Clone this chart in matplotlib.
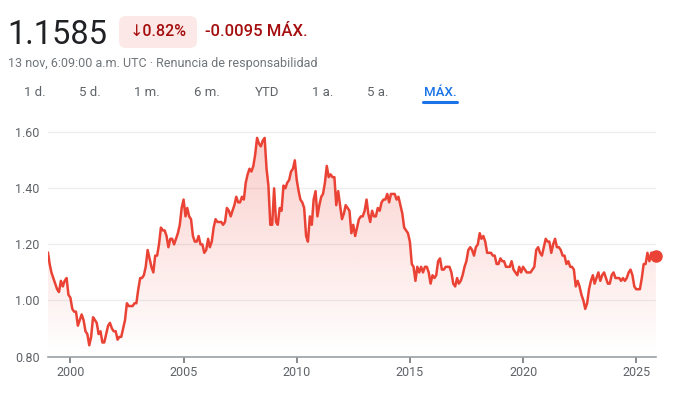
import numpy as np
import pandas as pd
import matplotlib
matplotlib.use("Agg")
import matplotlib.pyplot as plt
import matplotlib.dates as mdates
from matplotlib.patches import FancyBboxPatch, Polygon
from matplotlib.transforms import IdentityTransform

plt.rcParams['font.family'] = ['Roboto', 'DejaVu Sans']

# EUR/USD, month-end values
start_date = "1999-01-04"
start_rate = 1.17
rate = [
    # 1999
    1.13, 1.10, 1.08, 1.06, 1.04, 1.03, 1.07, 1.05, 1.07, 1.08, 1.02, 1.01,
    # 2000
    0.97, 0.96, 0.96, 0.91, 0.93, 0.95, 0.93, 0.89, 0.88, 0.84, 0.87, 0.94,
    # 2001
    0.93, 0.92, 0.88, 0.89, 0.85, 0.85, 0.88, 0.91, 0.92, 0.90, 0.89, 0.89,
    # 2002
    0.86, 0.87, 0.87, 0.90, 0.93, 0.99, 0.98, 0.98, 0.98, 0.99, 0.99, 1.04,
    # 2003
    1.08, 1.08, 1.09, 1.12, 1.18, 1.15, 1.12, 1.10, 1.16, 1.16, 1.20, 1.26,
    # 2004
    1.25, 1.25, 1.23, 1.19, 1.22, 1.22, 1.20, 1.22, 1.24, 1.27, 1.33, 1.36,
    # 2005
    1.30, 1.33, 1.30, 1.29, 1.23, 1.21, 1.21, 1.23, 1.20, 1.20, 1.17, 1.18,
    # 2006
    1.22, 1.19, 1.21, 1.26, 1.29, 1.28, 1.28, 1.28, 1.27, 1.28, 1.33, 1.32,
    # 2007
    1.30, 1.32, 1.34, 1.37, 1.35, 1.35, 1.37, 1.36, 1.42, 1.45, 1.47, 1.46,
    # 2008
    1.48, 1.52, 1.58, 1.56, 1.55, 1.57, 1.58, 1.47, 1.41, 1.27, 1.27, 1.40,
    # 2009
    1.28, 1.27, 1.33, 1.32, 1.41, 1.40, 1.42, 1.43, 1.46, 1.47, 1.50, 1.43,
    # 2010
    1.39, 1.36, 1.35, 1.33, 1.23, 1.21, 1.30, 1.27, 1.36, 1.39, 1.30, 1.34,
    # 2011
    1.37, 1.38, 1.42, 1.48, 1.44, 1.45, 1.44, 1.44, 1.34, 1.39, 1.34, 1.29,
    # 2012
    1.31, 1.34, 1.33, 1.32, 1.24, 1.27, 1.23, 1.26, 1.29, 1.30, 1.30, 1.32,
    # 2013
    1.36, 1.31, 1.28, 1.32, 1.30, 1.30, 1.33, 1.32, 1.35, 1.36, 1.36, 1.38,
    # 2014
    1.35, 1.38, 1.38, 1.38, 1.36, 1.37, 1.34, 1.31, 1.26, 1.25, 1.24, 1.21,
    # 2015
    1.13, 1.12, 1.07, 1.12, 1.10, 1.12, 1.10, 1.12, 1.12, 1.10, 1.06, 1.09,
    # 2016
    1.08, 1.09, 1.14, 1.15, 1.11, 1.11, 1.12, 1.12, 1.12, 1.10, 1.06, 1.05,
    # 2017
    1.08, 1.06, 1.07, 1.09, 1.12, 1.14, 1.18, 1.19, 1.18, 1.16, 1.19, 1.20,
    # 2018
    1.24, 1.22, 1.23, 1.21, 1.17, 1.17, 1.17, 1.16, 1.16, 1.13, 1.13, 1.15,
    # 2019
    1.14, 1.14, 1.12, 1.12, 1.12, 1.14, 1.11, 1.10, 1.09, 1.12, 1.10, 1.12,
    # 2020
    1.11, 1.10, 1.10, 1.10, 1.11, 1.12, 1.18, 1.19, 1.17, 1.16, 1.19, 1.22,
    # 2021
    1.21, 1.21, 1.17, 1.20, 1.22, 1.19, 1.19, 1.18, 1.16, 1.16, 1.13, 1.14,
    # 2022
    1.12, 1.12, 1.11, 1.05, 1.07, 1.05, 1.02, 1.00, 0.97, 0.99, 1.04, 1.07,
    # 2023
    1.09, 1.06, 1.08, 1.10, 1.07, 1.09, 1.10, 1.08, 1.06, 1.06, 1.09, 1.10,
    # 2024
    1.08, 1.08, 1.08, 1.07, 1.08, 1.07, 1.08, 1.10, 1.11, 1.09, 1.05, 1.04,
    # 2025
    1.04, 1.04, 1.08, 1.13, 1.13, 1.17, 1.14, 1.17, 1.17, 1.15,
]
last_date = "2025-11-13"
last_rate = 1.1585

y_ticks = [0.80, 1.00, 1.20, 1.40, 1.60]
x_years = [2000, 2005, 2010, 2015, 2020, 2025]
tabs = ["1 d.", "5 d.", "1 m.", "6 m.", "YTD", "1 a.", "5 a.", "MÁX."]
tab_x = [35, 90, 147, 207, 267, 323, 378, 440]

dates = pd.DatetimeIndex([pd.Timestamp(start_date)]).append(
    pd.date_range("1999-01-31", periods=len(rate), freq="ME")).append(
    pd.DatetimeIndex([pd.Timestamp(last_date)]))
values = np.array([start_rate] + rate + [last_rate])
xnum = mdates.date2num(dates)

red = "#ea4335"
W, H = 688, 395

fig = plt.figure(figsize=(W / 100, H / 100), dpi=100)
ax = fig.add_axes([48 / W, 1 - 356.5 / H, (656 - 48) / W, (356.5 - 126.7) / H])

ymin, ymax = 0.80, 1.62
x0, x1 = mdates.date2num(pd.Timestamp("1999-01-04")), mdates.date2num(pd.Timestamp("2025-11-15"))

# gradient fill under the line
grad = np.zeros((256, 1, 4))
rgb = matplotlib.colors.to_rgb(red)
grad[:, 0, 0], grad[:, 0, 1], grad[:, 0, 2] = rgb
grad[:, 0, 3] = np.linspace(0.27, 0.0, 256)
img = ax.imshow(grad, extent=[x0, x1, ymin, ymax], aspect="auto", origin="upper", zorder=1)
poly = Polygon(np.column_stack([np.r_[xnum[0], xnum, xnum[-1]], np.r_[ymin, values, ymin]]),
               closed=True, facecolor="none", edgecolor="none")
ax.add_patch(poly)
img.set_clip_path(poly)

ax.plot(xnum, values, color=red, lw=1.8, zorder=3, solid_joinstyle="round")
ax.plot(xnum[-1], values[-1], "o", color=red, ms=8, zorder=4, clip_on=False)

ax.set_xlim(x0, x1)
ax.set_ylim(ymin, ymax)
ax.set_yticks(y_ticks)
ax.set_yticklabels([f"{v:.2f}" for v in y_ticks])
ax.set_xticks([mdates.date2num(pd.Timestamp(f"{y}-01-01")) for y in x_years])
ax.set_xticklabels([str(y) for y in x_years])
ax.grid(axis="y", color="#eeeeee", lw=1)
ax.set_axisbelow(True)
for s in ["top", "right", "left"]:
    ax.spines[s].set_visible(False)
ax.spines["bottom"].set_color("#9aa0a6")
ax.spines["bottom"].set_linewidth(1.2)
ax.tick_params(axis="y", length=0, pad=6, labelsize=9, labelcolor="#5f6368")
ax.tick_params(axis="x", length=4, width=1.2, color="#70757a", pad=3, labelsize=9, labelcolor="#5f6368")


def px(x, y):
    return x / W, 1 - y / H


# header
fig.text(*px(7, 35), "1.1585", fontsize=23.5, color="#202124", va="center", ha="left")
badge = FancyBboxPatch((119, H - 48), 78, 32, boxstyle="round,pad=0,rounding_size=7",
                       facecolor="#fce8e6", edgecolor="none", transform=IdentityTransform())
fig.patches.append(badge)
fig.text(*px(158, 32), "↓0.82%", fontsize=11.5, color="#a50e0e", va="center", ha="center",
         fontweight="medium")
fig.text(*px(205, 32), "-0.0095 MÁX.", fontsize=12, color="#a50e0e", va="center", ha="left",
         fontweight="medium")
fig.text(*px(8, 63), "13 nov, 6:09:00 a.m. UTC · Renuncia de responsabilidad",
         fontsize=9, color="#70757a", va="center", ha="left")

for label, x in zip(tabs, tab_x):
    active = label == "MÁX."
    fig.text(*px(x, 93), label, fontsize=9.5, va="center", ha="center",
             color="#1a73e8" if active else "#5f6368", fontweight="medium" if active else "normal")
fig.lines.append(plt.Line2D([423 / W, 457 / W], [1 - 102 / H] * 2, color="#1a73e8", lw=2.2,
                            solid_capstyle="round", transform=fig.transFigure))

fig.savefig("out.png", dpi=100)
